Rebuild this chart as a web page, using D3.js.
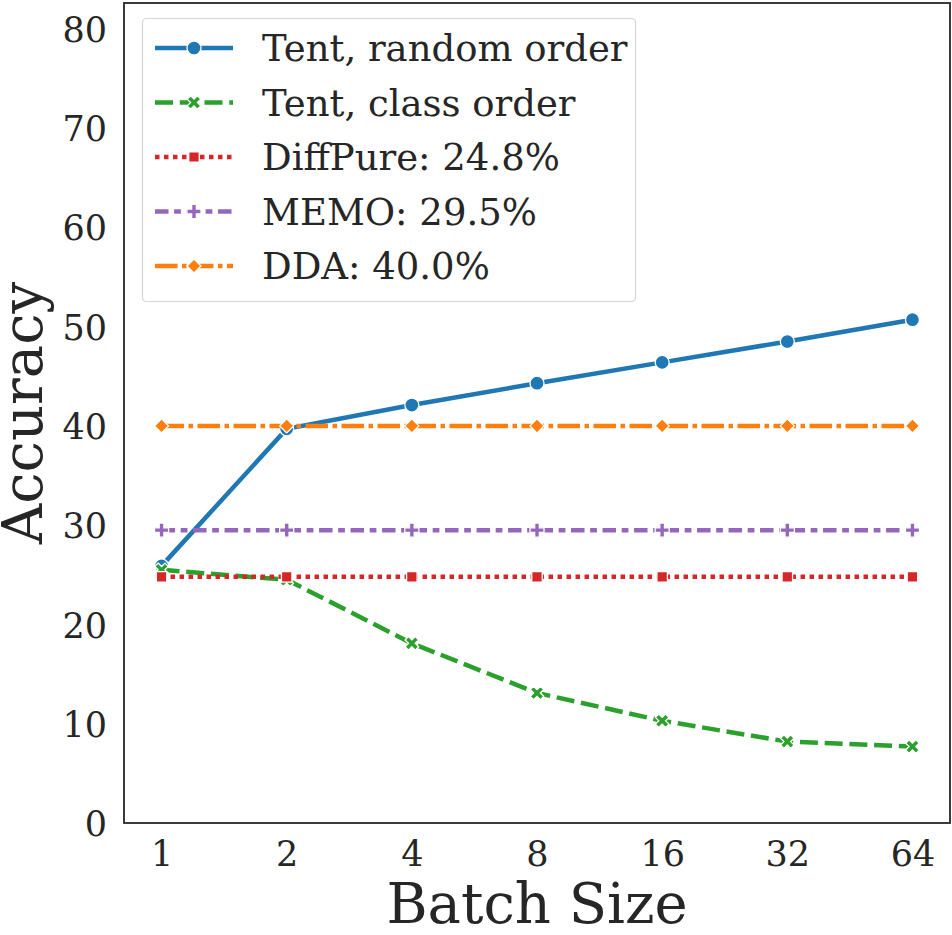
<!DOCTYPE html>
<html>
<head>
<meta charset="utf-8">
<script src="https://cdn.jsdelivr.net/npm/d3@7"></script>
<style>
	body { margin: 0; background: #fff; }
	svg text { font-family: "DejaVu Serif", serif; fill: #262626; }
</style>
</head>
<body>
<div id="vis"></div>
<script>
const width = 952;
const height = 935;

// data
const batchSizes = ["1", "2", "4", "8", "16", "32", "64"];
const tentRandom = [25.9, 39.7, 42.1, 44.3, 46.4, 48.5, 50.7];
const tentClass = [25.5, 24.5, 18.1, 13.1, 10.3, 8.2, 7.7];
const diffPure = [24.8, 24.8, 24.8, 24.8, 24.8, 24.8, 24.8];
const memo = [29.5, 29.5, 29.5, 29.5, 29.5, 29.5, 29.5];
const dda = [40.0, 40.0, 40.0, 40.0, 40.0, 40.0, 40.0];
const yTicks = [0, 10, 20, 30, 40, 50, 60, 70, 80];
const seriesNames = ["Tent, random order", "Tent, class order", "DiffPure: 24.8%", "MEMO: 29.5%", "DDA: 40.0%"];

const lw = 4.5;
const series = [
	{name: seriesNames[0], values: tentRandom, color: "#1f77b4", dash: null, marker: "o"},
	{name: seriesNames[1], values: tentClass, color: "#2ca02c", dash: [4, 1.5], marker: "X"},
	{name: seriesNames[2], values: diffPure, color: "#d62728", dash: [1, 1], marker: "s"},
	{name: seriesNames[3], values: memo, color: "#9467bd", dash: [3, 1.25, 1.5, 1.25], marker: "P"},
	{name: seriesNames[4], values: dda, color: "#ff7f0e", dash: [5, 1, 1, 1], marker: "D"}
];

const plot = {left: 124, right: 950, top: 3, bottom: 823};

const x = d3.scaleLinear()
	.domain([-0.3, batchSizes.length - 1 + 0.3])
	.range([plot.left, plot.right]);

const y = d3.scaleLinear()
	.domain([0, 82.6])
	.range([plot.bottom, plot.top]);

// marker shapes, centred on 0,0
function markerPath (m) {
	if (m == "o") return d3.symbol(d3.symbolCircle, Math.PI * 7 * 7)();
	if (m == "s") return d3.symbol(d3.symbolSquare, 10.5 * 10.5)();
	if (m == "D") {
		const r = 7;
		return `M0,${-r}L${r},0L0,${r}L${-r},0Z`;
	}
	if (m == "P") return d3.symbol(d3.symbolCross, 110)();
	if (m == "X") return d3.symbol(d3.symbolCross, 115)();
}
const markerRotate = m => m == "X" ? 45 : 0;

const svg = d3.select("div#vis")
	.append("svg")
	.attr("width", width)
	.attr("height", height);

// axes (no tick marks, labels only)
const yAxis = svg.append("g")
	.attr("transform", `translate(${plot.left},0)`)
	.call(d3.axisLeft(y).tickValues(yTicks).tickSize(0).tickPadding(17));

yAxis.selectAll("text")
	.attr("dy", "0.36em")
	.style("font-size", "35px");

const xAxis = svg.append("g")
	.attr("transform", `translate(0,${plot.bottom})`)
	.call(d3.axisBottom(x)
		.tickValues(d3.range(batchSizes.length))
		.tickFormat(i => batchSizes[i])
		.tickSize(0)
		.tickPadding(18));

xAxis.selectAll("text")
	.style("font-size", "35px");

svg.selectAll(".domain").remove();

// lines + markers
const line = d3.line()
	.x((d, i) => x(i))
	.y(d => y(d));

series.forEach(s => {
	const g = svg.append("g");
	g.append("path")
		.attr("d", line(s.values))
		.attr("fill", "none")
		.attr("stroke", s.color)
		.attr("stroke-width", lw)
		.attr("stroke-dasharray", s.dash ? s.dash.map(v => v * lw).join(",") : null);

	g.selectAll("path.marker")
		.data(s.values)
		.enter()
		.append("path")
			.classed("marker", true)
			.attr("d", markerPath(s.marker))
			.attr("transform", (d, i) => `translate(${x(i)},${y(d)}) rotate(${markerRotate(s.marker)})`)
			.attr("fill", s.color)
			.attr("stroke", "#fff")
			.attr("stroke-width", 1.3);
});

// frame
svg.append("rect")
	.attr("x", plot.left)
	.attr("y", plot.top)
	.attr("width", plot.right - plot.left)
	.attr("height", plot.bottom - plot.top)
	.attr("fill", "none")
	.attr("stroke", "#262626")
	.attr("stroke-width", 1.8);

// legend
const legend = svg.append("g");
legend.append("rect")
	.attr("x", 142.5)
	.attr("y", 18.5)
	.attr("width", 493)
	.attr("height", 283)
	.attr("rx", 4)
	.attr("fill", "#fff")
	.attr("fill-opacity", 0.8)
	.attr("stroke", "#d5d5d5")
	.attr("stroke-width", 1.2);

const rowY = d3.scaleLinear().domain([0, 4]).range([48, 266]);

series.forEach((s, i) => {
	const ry = rowY(i);
	legend.append("line")
		.attr("x1", 155)
		.attr("x2", 233)
		.attr("y1", ry)
		.attr("y2", ry)
		.attr("stroke", s.color)
		.attr("stroke-width", lw)
		.attr("stroke-dasharray", s.dash ? s.dash.map(v => v * lw).join(",") : null);
	legend.append("path")
		.attr("d", markerPath(s.marker))
		.attr("transform", `translate(194,${ry}) rotate(${markerRotate(s.marker)})`)
		.attr("fill", s.color)
		.attr("stroke", "#fff")
		.attr("stroke-width", 1.3);
	legend.append("text")
		.attr("x", 262)
		.attr("y", ry)
		.attr("dy", "0.36em")
		.style("font-size", "37px")
		.text(s.name);
});

// axis titles
svg.append("text")
	.attr("x", (plot.left + plot.right) / 2)
	.attr("y", 922.5)
	.attr("text-anchor", "middle")
	.style("font-size", "56px")
	.text("Batch Size");

svg.append("text")
	.attr("transform", `translate(42,${(plot.top + plot.bottom) / 2}) rotate(-90)`)
	.attr("text-anchor", "middle")
	.style("font-size", "56px")
	.text("Accuracy");
</script>
</body>
</html>
